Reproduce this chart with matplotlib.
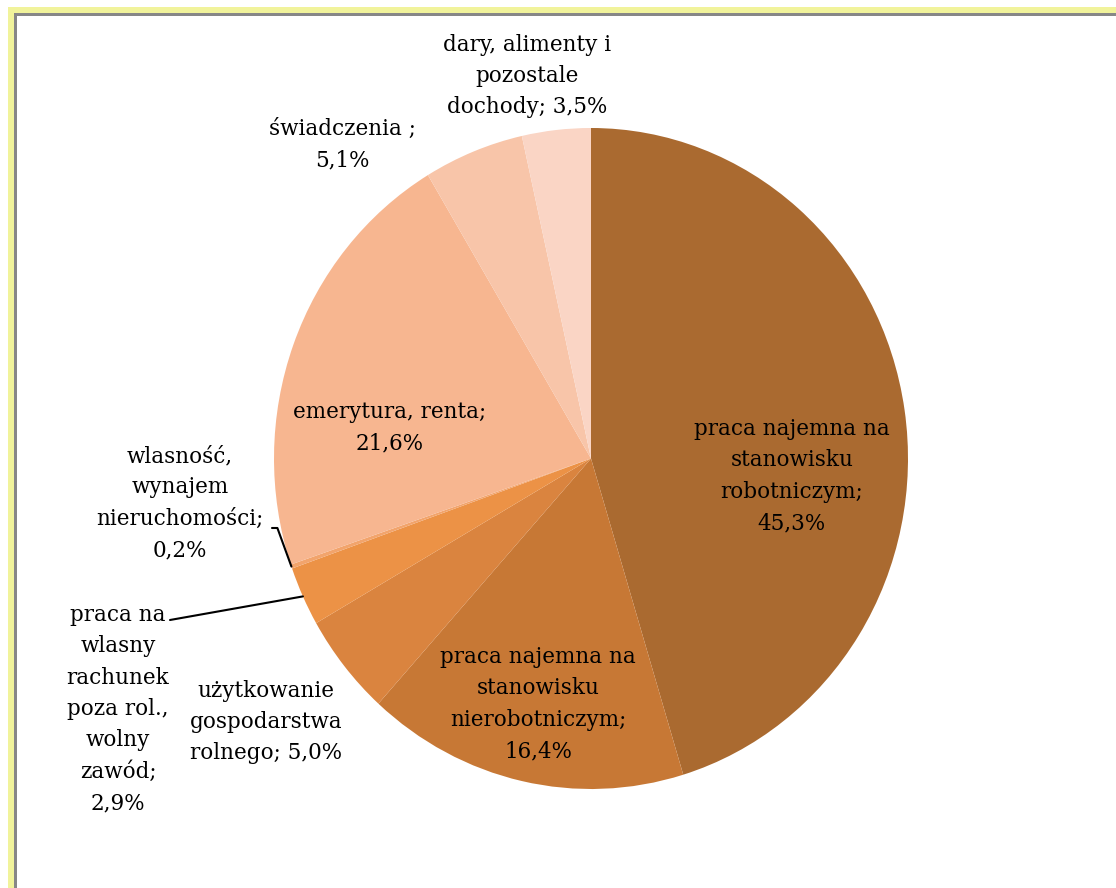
import numpy as np
import matplotlib.pyplot as plt
from matplotlib.patches import Rectangle

# udzial zrodel dochodu (%)
names = [
    'praca najemna na\nstanowisku\nrobotniczym',
    'praca najemna na\nstanowisku\nnierobotniczym',
    'użytkowanie\ngospodarstwa\nrolnego',
    'praca na\nwlasny\nrachunek\npoza rol.,\nwolny\nzawód',
    'wlasność,\nwynajem\nnieruchomości',
    'emerytura, renta',
    'świadczenia',
    'dary, alimenty i\npozostale\ndochody',
]
seps = [';\n', ';\n', '; ', ';\n', ';\n', ';\n', ' ;\n', '; ']
values = [45.3, 16.4, 5.0, 2.9, 0.2, 21.6, 5.1, 3.5]
colors = ['#AA6A30', '#C77835', '#DA843F', '#EC9246', '#F2A46C',
          '#F7B690', '#F8C5A9', '#FAD5C5']

# label centres in image pixels (x, y from top)
label_pos = [(792, 476), (538, 704), (266, 722), (118, 709),
             (180, 503), (390, 428), (342, 145), (527, 76)]
# leader line start (pixels) and connection style
leader = {3: ((170, 620), 'arc3,rad=0'),
          4: ((272, 528), 'angle,angleA=0,angleB=-70,rad=0')}

W, H = 1116, 888
fig = plt.figure(figsize=(W / 100, H / 100), dpi=100)
fig.patch.set_facecolor('white')

# pie area: x 274..908, y 128..789 px
ax = fig.add_axes([274 / W, (H - 789) / H, 634 / W, 661 / H])
ax.pie(values, colors=colors, startangle=90, counterclock=False,
       wedgeprops=dict(linewidth=0))
ax.set_aspect('auto')
ax.set_xlim(-1, 1)
ax.set_ylim(-1, 1)
ax.axis('off')

font = dict(family='DejaVu Serif', size=15.5, color='black')

cum = 0.0
for i, v in enumerate(values):
    mid = 90 - (cum + v / 2) / 100 * 360
    cum += v
    txt = names[i] + seps[i] + f'{v:.1f}'.replace('.', ',') + '%'
    x, y = label_pos[i]
    fig.text(x / W, 1 - y / H, txt, ha='center', va='center',
             linespacing=1.55, **font)
    if i in leader:
        a = np.deg2rad(mid)
        (lx, ly), cs = leader[i]
        ax.annotate('', xy=(np.cos(a), np.sin(a)), xycoords='data',
                    xytext=(lx, H - ly), textcoords='figure pixels',
                    arrowprops=dict(arrowstyle='-', color='black', lw=1.5,
                                    shrinkA=0, shrinkB=0,
                                    connectionstyle=cs))

# frame (yellow band + gray line on top and left)
yel, gry = '#F1F39B', '#878787'
fig.add_artist(Rectangle((8 / W, 0), 6 / W, (H - 7) / H,
                         transform=fig.transFigure, color=yel, lw=0))
fig.add_artist(Rectangle((8 / W, (H - 13) / H), (W - 8) / W, 6 / H,
                         transform=fig.transFigure, color=yel, lw=0))
fig.add_artist(Rectangle((14 / W, 0), 2.5 / W, (H - 13) / H,
                         transform=fig.transFigure, color=gry, lw=0))
fig.add_artist(Rectangle((14 / W, (H - 16) / H), (W - 14) / W, 3 / H,
                         transform=fig.transFigure, color=gry, lw=0))

fig.savefig('out.png', dpi=100)
